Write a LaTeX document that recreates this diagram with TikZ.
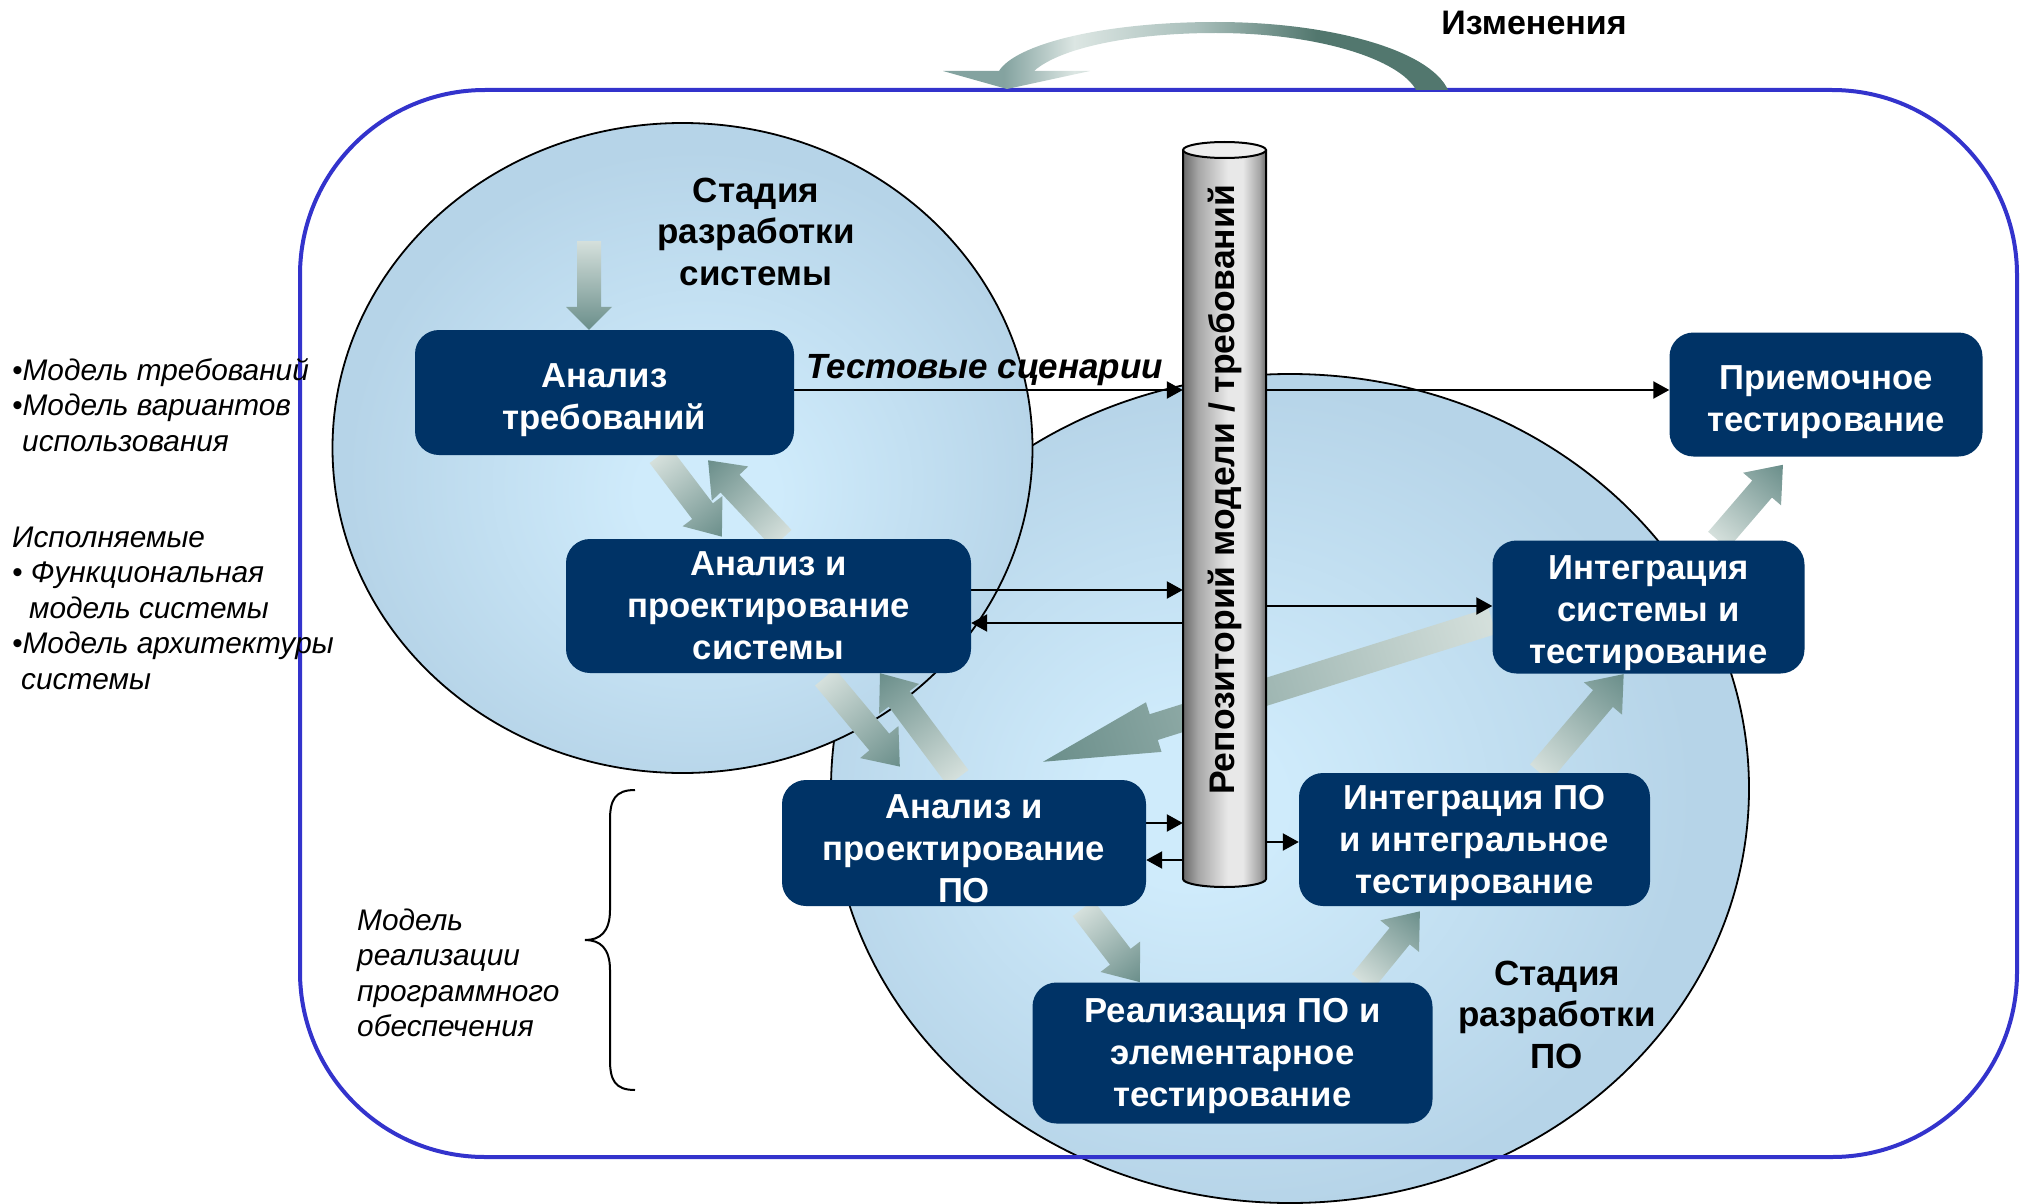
\documentclass[tikz,border=0pt]{standalone}
\usepackage{fontspec}
\setmainfont{Liberation Sans}
\usetikzlibrary{arrows.meta,calc}

\definecolor{navy}{HTML}{003366}
\definecolor{frameblue}{HTML}{3333CC}
\definecolor{ellin}{HTML}{CFEBFB}
\definecolor{ellout}{HTML}{B6D4E8}
\definecolor{fatlight}{HTML}{D5E0DC}
\definecolor{fatdark}{HTML}{6A8E8A}
\definecolor{cylA}{HTML}{6A6A6A}
\definecolor{cylB}{HTML}{A6A6A6}
\definecolor{cylC}{HTML}{E8E8E8}
\definecolor{cyltop}{HTML}{EEEEEE}
\definecolor{chgA}{HTML}{84A3A0}
\definecolor{chgB}{HTML}{DCE6E3}
\definecolor{chgC}{HTML}{A9BFBB}
\definecolor{chgD}{HTML}{52776E}

% soft radial fills of the two stage regions
\pgfdeclareradialshading{ellsys}{\pgfpoint{2bp}{-4bp}}{color(0bp)=(ellin); color(5bp)=(ellin); color(25bp)=(ellout); color(50bp)=(ellout)}
\pgfdeclareradialshading{ellsw}{\pgfpoint{-6bp}{-1bp}}{color(0bp)=(ellin); color(5bp)=(ellin); color(25bp)=(ellout); color(50bp)=(ellout)}
% metallic repository body
\pgfdeclarehorizontalshading{cylshade}{100bp}{color(0bp)=(cylA); color(25bp)=(cylA); color(34bp)=(cylB); color(52bp)=(cylC); color(61bp)=(cylC); color(71bp)=(cylB); color(75bp)=(cylA); color(100bp)=(cylA)}
% curved "changes" arrow
\pgfdeclarehorizontalshading{chgshade}{100bp}{color(0bp)=(chgA); color(25bp)=(chgA); color(31bp)=(chgA); color(38bp)=(chgB); color(50bp)=(chgC); color(62bp)=(chgD); color(75bp)=(chgD); color(100bp)=(chgD)}

\pgfdeclarelayer{regions}
\pgfdeclarelayer{links}
\pgfsetlayers{regions,links,main}

\tikzset{
  px/.style={x=1pt,y=-1pt},
  stagebox/.style={shape=rectangle, rounded corners=24pt, fill=navy, text=white,
    inner sep=0pt, font=\fontsize{34.7}{42}\selectfont\bfseries},
  stagelabel/.style={font=\fontsize{35}{41.5}\selectfont\bfseries, inner sep=0pt, anchor=base},
  note/.style={font=\fontsize{29.8}{35.5}\selectfont\itshape, inner sep=0pt, anchor=base west},
  flow/.style={line width=2.2pt, -{Triangle[length=16pt,width=17pt]}},
  rim/.style={line width=1.8pt},
}

\newcommand\rows[2]{\begin{tabular}[t]{@{}#1@{}}#2\end{tabular}}
% centred box caption, lowered a little inside its box
\newcommand\boxtext[2][6pt]{\raisebox{-#1}[\height][\depth]{\rows{c}{#2}}}

% thick shaded arrow: tail, tip, half shaft width, half head width, head length
\newcommand\fatarrow[5]{%
  \path let \p1=(#1), \p2=(#2) in \pgfextra{%
    \pgfmathsetmacro\fatang{atan2(\y2-\y1,\x2-\x1)}%
    \pgfmathsetmacro\fatlen{veclen(\x2-\x1,\y2-\y1)}%
    \pgfmathsetmacro\fatneck{\fatlen-#5}%
    \xdef\fatang{\fatang}\xdef\fatlen{\fatlen}\xdef\fatneck{\fatneck}%
    \xdef\fatx{\x1}\xdef\faty{\y1}};
  \begin{scope}[transform canvas={shift={(\fatx,\faty)},rotate=\fatang}]
    \shade[left color=fatlight, right color=fatdark]
      (0pt,#3pt) -- (\fatneck pt,#3pt) -- (\fatneck pt,#4pt) -- (\fatlen pt,0pt)
      -- (\fatneck pt,-#4pt) -- (\fatneck pt,-#3pt) -- (0pt,-#3pt) -- cycle;
  \end{scope}}

\begin{document}
\begin{tikzpicture}[px]
\useasboundingbox (0,0) rectangle (2021,1204);

% ---- process steps ----
\node[stagebox, minimum width=379pt, minimum height=125pt] (box1) at (604.5,392.5) {\boxtext[8pt]{Анализ\\требований}};
\node[stagebox, minimum width=405pt, minimum height=134pt] (box2) at (768.5,606) {\boxtext[3pt]{Анализ и\\проектирование\\системы}};
\node[stagebox, minimum width=364pt, minimum height=126pt] (box3) at (964,843) {\boxtext[9pt]{Анализ и\\проектирование\\ПО}};
\node[stagebox, minimum width=400pt, minimum height=141pt] (box4) at (1232.5,1053) {\boxtext[3pt]{Реализация ПО и\\элементарное\\тестирование}};
\node[stagebox, minimum width=351pt, minimum height=133pt] (box5) at (1474.5,839.5) {\boxtext[4pt]{Интеграция ПО\\и интегральное\\тестирование}};
\node[stagebox, minimum width=312pt, minimum height=133pt] (box6) at (1648.5,607) {\boxtext[6pt]{Интеграция\\системы и\\тестирование}};
\node[stagebox, minimum width=313pt, minimum height=124pt] (box7) at (1826,394.5) {\boxtext[8pt]{Приемочное\\тестирование}};

% repository body (outline drawn on the links layer)
\node[minimum width=83pt, minimum height=745pt, inner sep=0pt] (repo) at (1224.5,514.5) {};

% ---- stage regions and frame ----
\begin{pgfonlayer}{regions}
  \shade[shading=ellsw] (1290,788.5) ellipse (459 and 414.5);
  \draw[rim] (1290,788.5) ellipse (459 and 414.5);
  \shade[shading=ellsys] (682.5,448) ellipse (350 and 325);
  \draw[rim] (682.5,448) ellipse (350 and 325);
  \draw[line width=4pt, frameblue, rounded corners=185pt] (300,90) rectangle (2017,1157);
  \shade[shading=chgshade] (1448,90) .. controls (1430,50) and (1330,22) .. (1216,22)
    .. controls (1100,22) and (1015,45) .. (999,71) -- (943,71) -- (1007,89) -- (1090,71) -- (1034,71)
    .. controls (1060,48) and (1130,33) .. (1216,33) .. controls (1320,33) and (1400,60) .. (1416,90) -- cycle;
\end{pgfonlayer}

% ---- thick flow arrows ----
\coordinate (in0) at (589,241);
\coordinate (in0e) at (box1.north -| 589,0);
\coordinate (a1s) at (box1.south -| 660,0);
\coordinate (a1e) at ([yshift=2pt]box2.north -| 722,0);
\coordinate (a2s) at (box2.north -| 782,0);
\coordinate (a2e) at ([yshift=-5pt]box1.south -| 708,0);
\coordinate (a3s) at ([yshift=-4pt]box2.south -| 825,0);
\coordinate (a3e) at ([yshift=13pt]box3.north -| 900,0);
\coordinate (a4s) at ([yshift=2pt]box3.north -| 958,0);
\coordinate (a4e) at (box2.south -| 880,0);
\coordinate (a5s) at ([yshift=-2pt]box3.south -| 1083,0);
\coordinate (a5e) at (box4.north -| 1140,0);
\coordinate (a6s) at (box4.north -| 1362,0);
\coordinate (a6e) at ([yshift=-5pt]box5.south -| 1420,0);
\coordinate (a7s) at (box5.north -| 1540,0);
\coordinate (a7e) at (box6.south -| 1624,0);
\coordinate (a8s) at (box6.north -| 1718,0);
\coordinate (a8e) at ([yshift=-8pt]box7.south -| 1783,0);
\coordinate (a9s) at (box6.west |- 0,621);
\coordinate (a9e) at ([yshift=18pt]box3.north -| 1043,0);

\begin{pgfonlayer}{links}
  \fatarrow{in0}{in0e}{12}{23}{23}
  \fatarrow{a1s}{a1e}{13}{25}{32}
  \fatarrow{a2s}{a2e}{13}{25}{32}
  \fatarrow{a3s}{a3e}{13}{25}{32}
  \fatarrow{a4s}{a4e}{13}{25}{32}
  \fatarrow{a5s}{a5e}{13}{25}{32}
  \fatarrow{a6s}{a6e}{13}{25}{32}
  \fatarrow{a7s}{a7e}{13}{25}{32}
  \fatarrow{a8s}{a8e}{13}{25}{32}
  \fatarrow{a9s}{a9e}{13.5}{26}{116}

  % repository cylinder
  \shade[shading=cylshade] (1183,150) -- (1183,879) arc[start angle=180,end angle=0,x radius=41.5,y radius=8] -- (1266,150) -- cycle;
  \draw[line width=2pt] (1183,150) -- (1183,879) arc[start angle=180,end angle=0,x radius=41.5,y radius=8] -- (1266,150);
  \filldraw[fill=cyltop, line width=2pt] (1224.5,150) ellipse (41.5 and 8);

  % model exchange with the repository
  \draw[flow] (box1.east |- 0,390) -- (repo.west |- 0,390);
  \draw[flow] (repo.east |- 0,390) -- (box7.west |- 0,390);
  \draw[flow] (box2.east |- 0,590) -- (repo.west |- 0,590);
  \draw[flow] (repo.west |- 0,623) -- (box2.east |- 0,623);
  \draw[flow] (repo.east |- 0,606) -- (box6.west |- 0,606);
  \draw[flow] (box3.east |- 0,823) -- (repo.west |- 0,823);
  \draw[flow] (repo.west |- 0,860) -- (box3.east |- 0,860);
  \draw[flow] (repo.east |- 0,842) -- (box5.west |- 0,842);
\end{pgfonlayer}

% ---- labels ----
\node[rotate=90, inner sep=0pt, font=\fontsize{35.5}{40}\selectfont\bfseries] (repolabel) at (1225,490) {Репозиторий модели / требований};
\node[inner sep=0pt, anchor=base, font=\fontsize{34}{40}\selectfont\bfseries] (chg) at (1534,35) {Изменения};
\node[inner sep=0pt, anchor=base, font=\fontsize{35}{42}\selectfont\bfseries\itshape] (tests) at (984.5,378) {Тестовые сценарии};
\node[stagelabel] (stsys) at (756,202) {\rows{c}{Стадия\\разработки\\системы}};
\node[stagelabel] (stsw) at (1557,985) {\rows{c}{Стадия\\разработки\\ПО}};

\node[note] (req) at (12,380) {\rows{l}{•Модель требований\\•Модель вариантов\\\hspace*{10pt}использования}};
\node[note] (exec) at (12,547) {\rows{l}{Исполняемые\\• Функциональная\\\hspace*{17pt}модель системы\\•Модель архитектуры\\\hspace*{9pt}системы}};
\node[note] (impl) at (357,930) {\rows{l}{Модель\\реализации\\программного\\обеспечения}};

% brace grouping the software realisation model
\draw[line width=2pt] (635,790) .. controls (615,790) and (610,800) .. (610,820) -- (610,910)
  .. controls (610,932) and (600,940) .. (585,940) .. controls (600,940) and (610,948) .. (610,970)
  -- (610,1060) .. controls (610,1080) and (615,1090) .. (635,1090);
\end{tikzpicture}
\end{document}
